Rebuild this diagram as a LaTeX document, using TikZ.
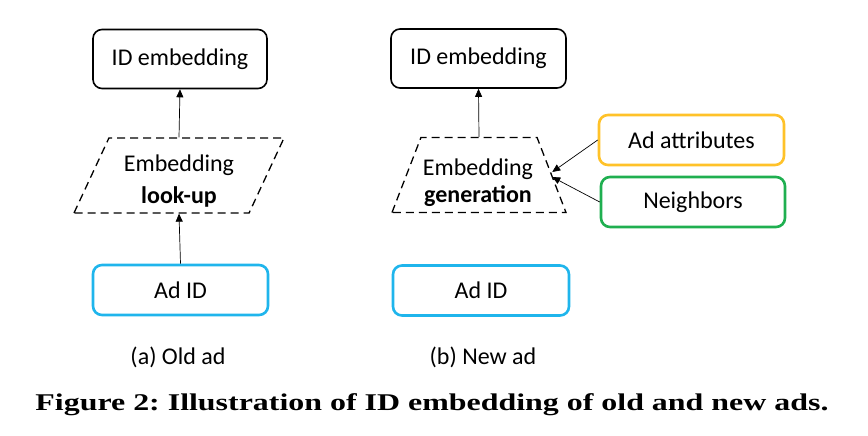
\documentclass[tikz,border=0pt]{standalone}
\usepackage{fontspec}
\setmainfont{Carlito}
\newfontfamily\captionfont[FakeStretch=1.33]{Liberation Serif}
\usetikzlibrary{shapes.geometric,arrows.meta}
\definecolor{adblue}{HTML}{1FB5EC}
\definecolor{attrorange}{HTML}{FFC229}
\definecolor{nbgreen}{HTML}{1FAF50}
\tikzset{
  idbox/.style={draw, line width=1.6pt, rounded corners=9pt, minimum width=174pt, minimum height=59pt, font=\fontsize{24}{28}\selectfont},
  inbox/.style={draw, line width=2.6pt, rounded corners=9pt, minimum height=50pt, font=\fontsize{24}{28}\selectfont},
  embshape/.style={draw, dashed, dash pattern=on 8pt off 5pt, line width=1.3pt, trapezium, trapezium stretches=true, minimum height=75pt},
  embtext/.style={align=center, inner sep=0pt},
  flow/.style={-{Triangle[length=8pt,width=7pt]}, line width=0.7pt},
  sublabel/.style={font=\fontsize{24}{28}\selectfont}
}
\begin{document}
\begin{tikzpicture}[x=1pt,y=-1pt]
    \useasboundingbox (0,0) rectangle (868,436);
    % (a) old ad
	\node[idbox] (emb1) at (180,59) {ID embedding};
	\node[embshape, trapezium left angle=76, trapezium right angle=104, minimum width=210pt] (look) at (179,175.5) {};
	\node[embtext, font=\fontsize{24}{32}\selectfont] (looktxt) at (179,181) {Embedding\\\textbf{look-up}};
	\node[inbox, draw=adblue, minimum width=175pt] (ad1) at (180.5,290) {Ad ID};
	\draw[flow] (ad1.north) -- (look.south);
	\draw[flow] (look.north) -- (emb1.south);
	\node[sublabel] (cap1) at (178,357) {(a) Old ad};
    % (b) new ad
	\node[idbox, minimum width=175pt] (emb2) at (478.5,58.5) {ID embedding};
	\node[embshape, trapezium left angle=76, trapezium right angle=76, minimum width=174pt] (gen) at (479,175) {};
	\node[embtext, font=\fontsize{24}{27}\selectfont] (gentxt) at (478,183) {Embedding\\\textbf{generation}};
	\node[inbox, draw=adblue, minimum width=176pt] (ad2) at (481,290.5) {Ad ID};
	\node[inbox, draw=attrorange, minimum width=185pt] (attr) at (691.5,140) {Ad attributes};
	\node[inbox, draw=nbgreen, minimum width=184pt] (nb) at (693,202) {Neighbors};
	\draw[flow] (gen.north) -- (emb2.south);
	\draw[flow] (attr.west) -- ([yshift=3pt]gen.east);
	\draw[flow] (nb.west) -- ([yshift=-2pt]gen.east);
	\node[sublabel] (cap2) at (483,357) {(b) New ad};
    % figure caption
	\node[anchor=base, font=\captionfont\bfseries\fontsize{24}{28}\selectfont] (figcap) at (432,410) {\frenchspacing Figure 2: Illustration of ID embedding of old and new ads.};
\end{tikzpicture}
\end{document}
